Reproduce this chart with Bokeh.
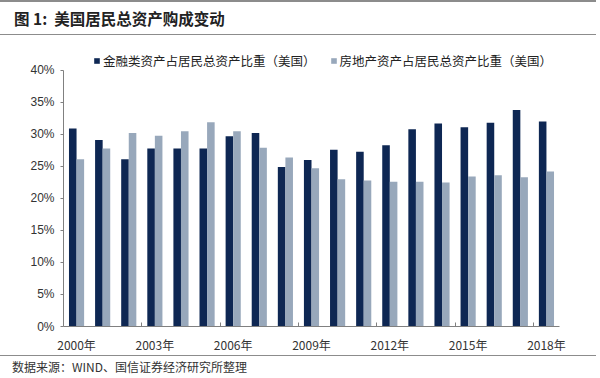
from bokeh.plotting import figure
from bokeh.models import (ColumnDataSource, FixedTicker, PrintfTickFormatter,
                          Legend, LegendItem, Range1d, Div)
from bokeh.layouts import column
from bokeh.transform import dodge
from bokeh.embed import file_html
from bokeh.resources import INLINE

years = [str(y) for y in range(2000, 2019)]
financial = [30.9, 29.1, 26.1, 27.8, 27.8, 27.8, 29.7, 30.2, 24.9, 26.0,
             27.6, 27.3, 28.3, 30.8, 31.7, 31.1, 31.8, 33.8, 32.0]
real_estate = [26.1, 27.8, 30.2, 29.8, 30.5, 31.9, 30.5, 27.9, 26.4, 24.7,
               23.0, 22.8, 22.6, 22.6, 22.5, 23.4, 23.6, 23.3, 24.2]
label_years = [2000, 2003, 2006, 2009, 2012, 2015, 2018]
y_ticks = [0, 5, 10, 15, 20, 25, 30, 35, 40]
title_text = "图 1:&nbsp;&nbsp;美国居民总资产购成变动"
series_names = ["金融类资产占居民总资产比重（美国）", "房地产资产占居民总资产比重（美国）"]
source_text = "数据来源：WIND、国信证券经济研究所整理"

DARK = "#0E2753"
LIGHT = "#98A8BB"
RULE = "#8C8C8C"
CJK = "Noto Sans CJK SC"
LAT = "Liberation Sans"

W = 600
HEAD_H = 35
FOOT_H = 23
MAIN_H = 378 - HEAD_H - FOOT_H

# ---------- header ----------
head = Div(width=W, height=HEAD_H, margin=(0, 0, 0, 0),
           text=(f'<div style="box-sizing:border-box;width:596px;height:{HEAD_H}px;'
                 f'border-top:2px solid {RULE};border-bottom:1.5px solid {RULE};'
                 f'padding-left:14px;padding-top:5px;font-family:\'{CJK}\';font-weight:bold;'
                 f'font-size:15.5px;line-height:22px;color:#222">{title_text}</div>'))

# ---------- main chart ----------
FL, FR = 63, 559
Y40, Y0 = 70, 328          # canvas pixel rows of 40% and 0%
FRAME_TOP = HEAD_H + 6
FT = FRAME_TOP - HEAD_H
FB = Y0 - HEAD_H
y_top = 40 * (Y0 - FRAME_TOP) / (Y0 - Y40)

idx = list(range(len(years)))
src = ColumnDataSource(dict(x=idx, fin=financial, re=real_estate))

p = figure(width=W, height=MAIN_H, output_backend="svg", toolbar_location=None,
           x_range=Range1d(-0.5, len(years) - 0.5), y_range=Range1d(0, y_top),
           min_border_left=FL, min_border_right=W - FR, min_border_top=FT,
           min_border_bottom=MAIN_H - FB, margin=(0, 0, 0, 0))
p.outline_line_color = None
p.xgrid.grid_line_color = None
p.ygrid.grid_line_color = None

bw = 0.29
r1 = p.vbar(x=dodge("x", -bw / 2, range=p.x_range), top="fin", width=bw, source=src,
            fill_color=DARK, line_color=None)
r2 = p.vbar(x=dodge("x", bw / 2, range=p.x_range), top="re", width=bw, source=src,
            fill_color=LIGHT, line_color=None)

xa = p.xaxis[0]
lab_pos = [years.index(str(y)) for y in label_years]
xa.ticker = FixedTicker(ticks=lab_pos, minor_ticks=[i + 2.5 for i in range(0, 18, 3)])
xa.major_label_overrides = {i: f"{years[i]}年" for i in lab_pos}
xa.major_tick_line_color = None
xa.minor_tick_in = 4
xa.minor_tick_out = 0
xa.minor_tick_line_color = "#808080"
xa.axis_line_color = "#808080"
xa.major_label_text_font = CJK
xa.major_label_text_font_size = "12px"
xa.major_label_text_color = "#333333"
xa.major_label_standoff = 3

ya = p.yaxis[0]
ya.ticker = FixedTicker(ticks=y_ticks)
ya.bounds = (0, 40)
ya.formatter = PrintfTickFormatter(format="%d%%")
ya.major_tick_in = 0
ya.major_tick_out = 3
ya.minor_tick_line_color = None
ya.axis_line_color = "#808080"
ya.major_tick_line_color = "#808080"
ya.major_label_text_font = LAT
ya.major_label_text_font_size = "12px"
ya.major_label_text_color = "#333333"
ya.major_label_standoff = 6

legend = Legend(items=[LegendItem(label=series_names[0], renderers=[r1]),
                       LegendItem(label=series_names[1], renderers=[r2])],
                orientation="horizontal", location=(30, Y0 - 72),
                label_text_font=CJK, label_text_font_size="12.5px", label_text_color="#222222",
                glyph_width=7, glyph_height=7, label_standoff=3, spacing=14,
                padding=0, margin=0, border_line_color=None, background_fill_alpha=0)
p.add_layout(legend, "center")

# ---------- footer ----------
foot = Div(width=W, height=FOOT_H, margin=(0, 0, 0, 0),
           text=(f'<div style="box-sizing:border-box;width:596px;height:{FOOT_H}px;'
                 f'border-top:1.5px solid {RULE};padding-left:12px;padding-top:2px;'
                 f'font-family:\'{CJK}\';font-size:12px;line-height:18px;color:#333">'
                 f'{source_text}</div>'))

layout = column(head, p, foot, spacing=0)
open("out.html", "w").write(file_html(layout, INLINE))
